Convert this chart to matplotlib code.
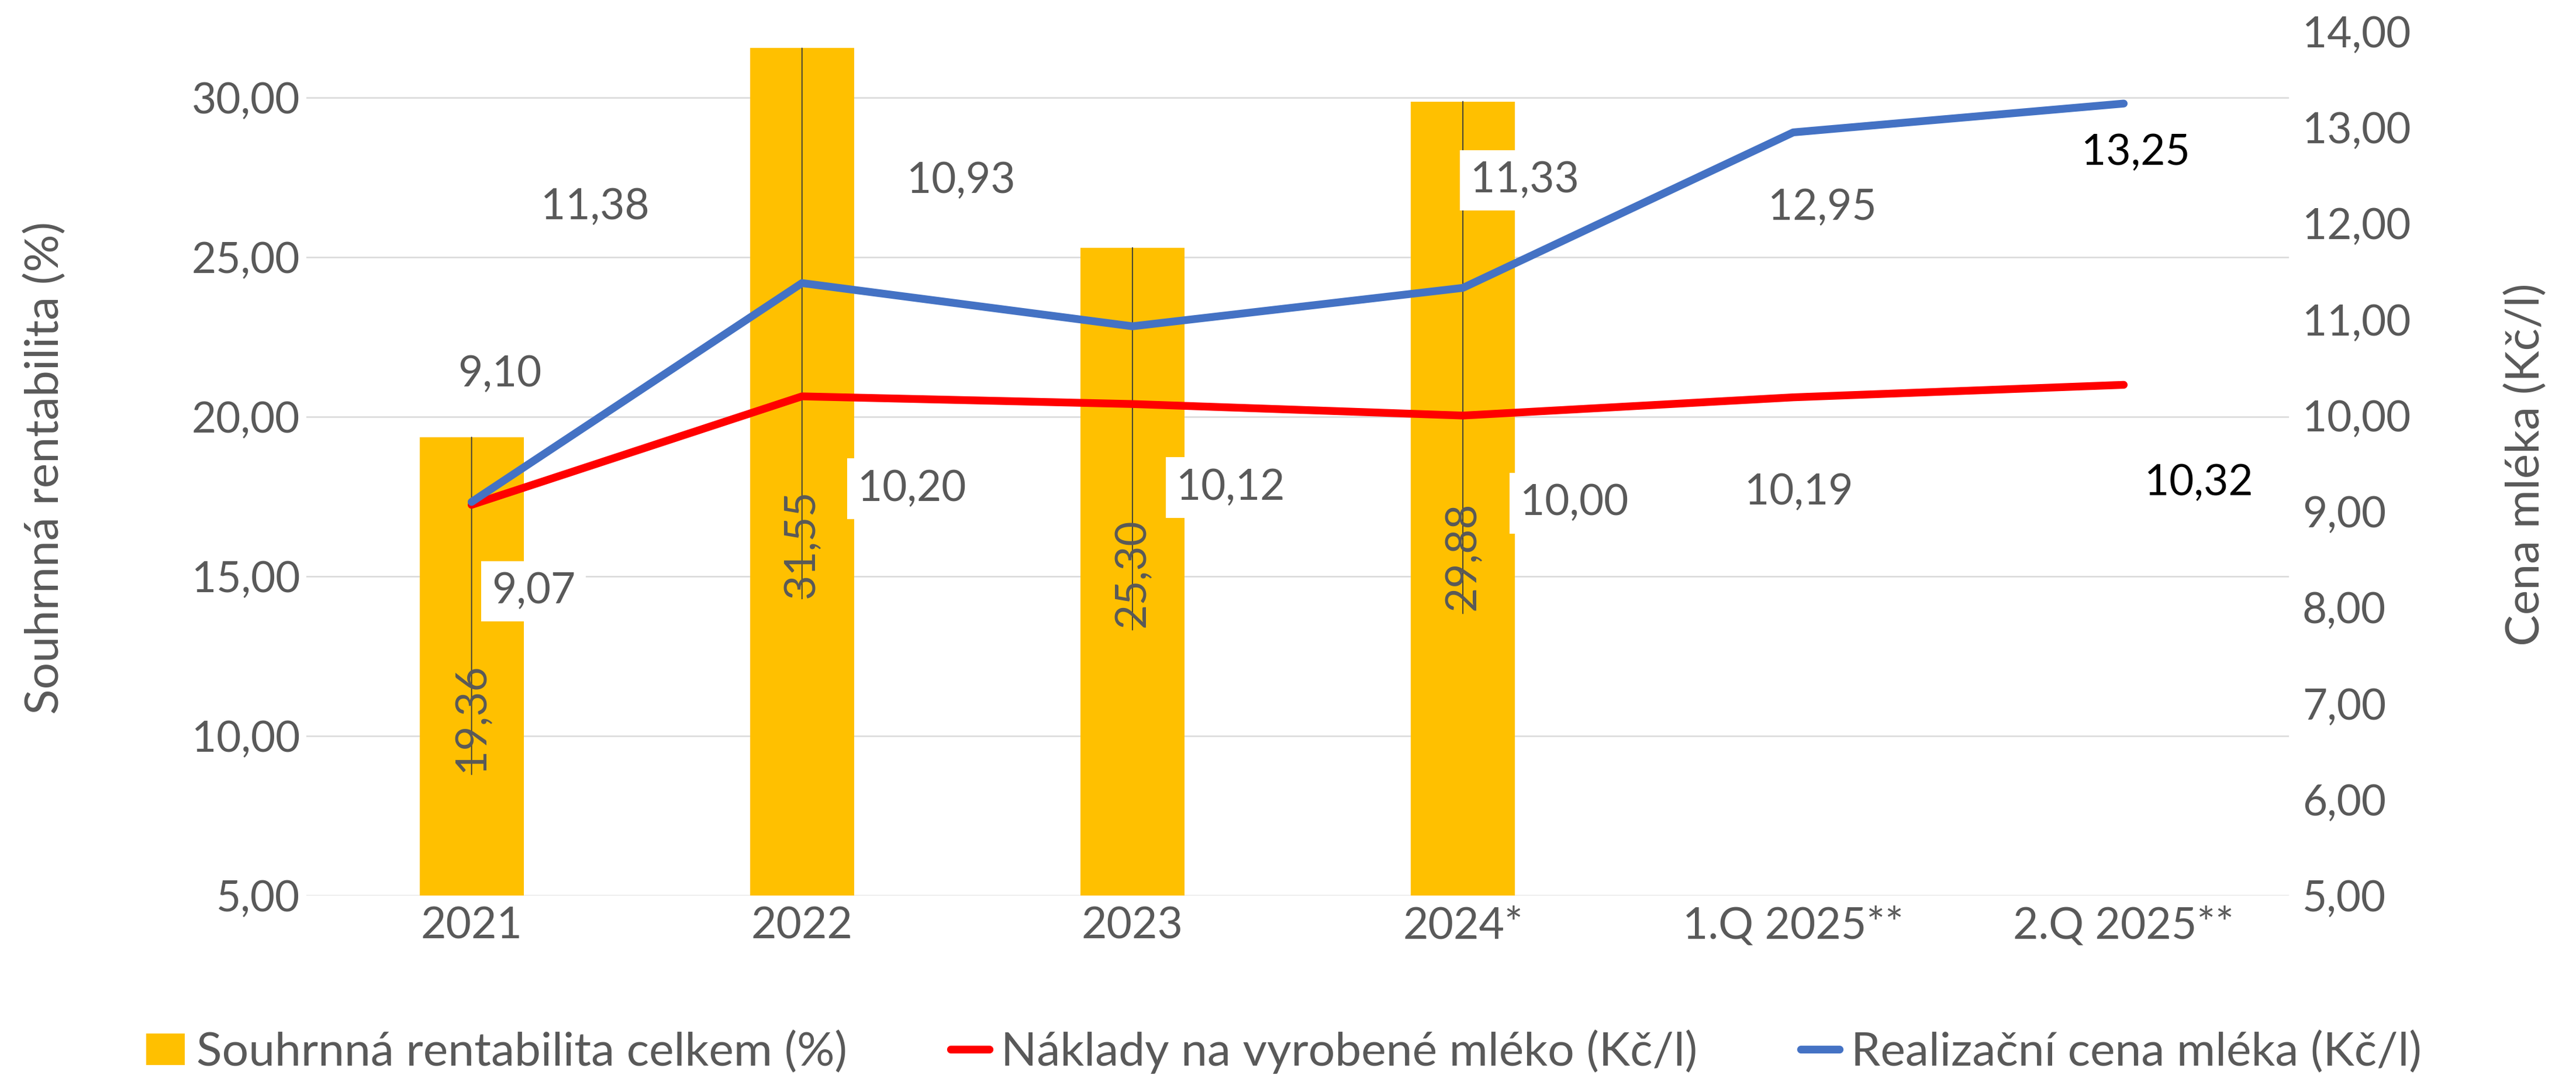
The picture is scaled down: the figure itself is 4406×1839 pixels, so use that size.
import matplotlib
matplotlib.use('Agg')
import matplotlib.pyplot as plt
from matplotlib.patches import Patch
from matplotlib.lines import Line2D
from matplotlib.ticker import FixedLocator, FuncFormatter

# ---------------- data ----------------
categories = ['2021', '2022', '2023', '2024*', '1.Q 2025**', '2.Q 2025**']
rentabilita = [19.36, 31.55, 25.30, 29.88]          # bars (first four categories)
naklady = [9.07, 10.20, 10.12, 10.00, 10.19, 10.32]  # red line
cena = [9.10, 11.38, 10.93, 11.33, 12.95, 13.25]     # blue line
left_ticks = [5, 10, 15, 20, 25, 30]
right_ticks = [5, 6, 7, 8, 9, 10, 11, 12, 13, 14]
series_names = ['Souhrnná rentabilita celkem (%)',
                'Náklady na vyrobené mléko (Kč/l)',
                'Realizační cena mléka (Kč/l)']
left_title = 'Souhrnná rentabilita (%)'
right_title = 'Cena mléka (Kč/l)'

# ---------------- style / layout ----------------
FONT = ['Lato', 'DejaVu Sans']
plt.rcParams['font.family'] = FONT
GRAY = '#595959'
BAR_C = '#FFC000'
RED = '#FF0000'
BLUE = '#4472C4'
FS = 17.5       # numbers
FS_TXT = 19.3   # word labels (legend, axis titles)
DPI = 300
PX = 72.0 / DPI  # points per pixel

# label offsets in pixels (dx right, dy up) relative to the data point
cena_off = [(48, 218), (-354, 130), (-293, 249), (106, 184), (50, -129), (20, -84)]
nakl_off = [(106, -148), (188, -158), (168, -143), (191, -150), (10, -163), (128, -168)]
label_colors = [GRAY, GRAY, GRAY, GRAY, GRAY, 'black']
bar_lab_off = [-479, -848, -557, -778]
bar_line_off = [-577, -942, -654, -876]

fig = plt.figure(figsize=(4406 / DPI, 1839 / DPI), dpi=DPI)
ax = fig.add_axes([524 / 4406, 1 - 1532 / 1839, (3915 - 524) / 4406, (1532 - 54) / 1839])
ax2 = ax.twinx()

x = list(range(len(categories)))

def comma(v, pos=None):
    return f'{v:.2f}'.replace('.', ',')

# bars
ax.bar(x[:len(rentabilita)], rentabilita, width=0.315, color=BAR_C, zorder=2)
ax.set_ylim(5, 32.07)
ax.set_xlim(-0.5, len(categories) - 0.5)
ax.yaxis.set_major_locator(FixedLocator(left_ticks))
ax.yaxis.set_major_formatter(FuncFormatter(comma))
ax.grid(axis='y', color='#D9D9D9', linewidth=0.6, zorder=0)
ax.set_axisbelow(True)
ax.set_xticks(x)
ax.set_xticklabels(categories)
for s in ax.spines.values():
    s.set_visible(False)
ax.tick_params(axis='y', length=0, pad=2.6, labelsize=FS, labelcolor=GRAY)
ax.tick_params(axis='x', length=0, pad=4.3, labelsize=FS + 0.5, labelcolor=GRAY)

# bar labels (rotated) and thin leader lines
for i, v in enumerate(rentabilita):
    ax.annotate('', xy=(i, v), xytext=(0, bar_line_off[i] * PX), textcoords='offset points',
                arrowprops=dict(arrowstyle='-', lw=0.45, color='#3A3A3A',
                                shrinkA=0, shrinkB=0), zorder=3)
    ax.annotate(comma(v), xy=(i, v), xytext=(0, bar_lab_off[i] * PX), textcoords='offset points',
                rotation=90, ha='center', va='center', fontsize=FS, color=GRAY, zorder=4)

# lines
ax2.plot(x, naklady, color=RED, lw=3.2, solid_capstyle='round', solid_joinstyle='round', zorder=3)
ax2.plot(x, cena, color=BLUE, lw=3.2, solid_capstyle='round', solid_joinstyle='round', zorder=3)
ax2.set_ylim(5, 14)
ax2.yaxis.set_major_locator(FixedLocator(right_ticks))
ax2.yaxis.set_major_formatter(FuncFormatter(comma))
for s in ax2.spines.values():
    s.set_visible(False)
ax2.tick_params(axis='y', length=0, pad=5.5, labelsize=FS, labelcolor=GRAY)

bbox = dict(boxstyle='square,pad=0.25', facecolor='white', edgecolor='none')
for i, v in enumerate(cena):
    dx, dy = cena_off[i]
    ax2.annotate(comma(v), xy=(i, v), xytext=(dx * PX, dy * PX), textcoords='offset points',
                 ha='center', va='center', fontsize=FS, color=label_colors[i], bbox=bbox, zorder=5)
for i, v in enumerate(naklady):
    dx, dy = nakl_off[i]
    ax2.annotate(comma(v), xy=(i, v), xytext=(dx * PX, dy * PX), textcoords='offset points',
                 ha='center', va='center', fontsize=FS, color=label_colors[i], bbox=bbox, zorder=5)

# axis titles
fig.text(0.0175, 1 - 800 / 1839, left_title, rotation=90, ha='center', va='center',
         fontsize=FS_TXT, color=GRAY)
fig.text(4321 / 4406, 1 - 795 / 1839, right_title, rotation=90, ha='center', va='center',
         fontsize=FS_TXT, color=GRAY)

# legend
handles = [Patch(facecolor=BAR_C, edgecolor='none'),
           Line2D([], [], color=RED, lw=3.2, solid_capstyle='round'),
           Line2D([], [], color=BLUE, lw=3.2, solid_capstyle='round')]
fig.legend(handles, series_names, loc='center', bbox_to_anchor=(2196 / 4406, 1 - 1799 / 1839),
           ncol=3, frameon=False, fontsize=FS_TXT, labelcolor=GRAY, handlelength=0.82,
           handleheight=0.66, handletextpad=0.25, columnspacing=2.2, borderpad=0)

fig.savefig('out.png', dpi=DPI)
